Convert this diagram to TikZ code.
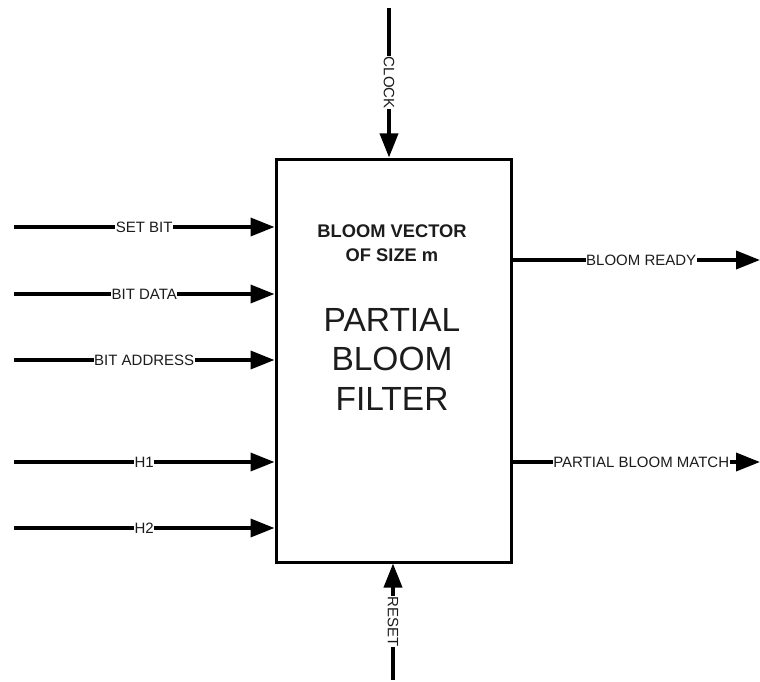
\documentclass[tikz,border=0pt]{standalone}
\usepackage{fontspec}
\setmainfont{Liberation Sans}
\usetikzlibrary{arrows.meta,positioning}
\definecolor{Ink}{HTML}{1C1C1C}
\tikzset{
  block/.style={
    draw=black,line width=3pt,fill=white,
    minimum width=235pt,minimum height=403pt,inner sep=0pt
  },
  signal/.style={-{Triangle[length=24pt,width=18pt]},line width=3.5pt,draw=black},
  tag/.style={fill=white,inner sep=0.6pt,text=Ink,font=\fontsize{15}{17}\selectfont},
  vtag/.style={tag,rotate=-90},
  caption/.style={align=center,text=Ink,font=\fontsize{18.3}{24}\selectfont\bfseries},
  title/.style={align=center,text=Ink,font=\fontsize{33.5}{39.5}\selectfont}
}

\begin{document}
\begin{tikzpicture}[x=1pt,y=-1pt]
  \useasboundingbox (0,0) rectangle (760,682);
  \node[block] (pbf) at (393.5,360.5) {};
  \node[caption] (vec) at (392,243) {BLOOM VECTOR\\OF SIZE m};
  \node[title] (name) at (392,359) {PARTIAL\\BLOOM\\FILTER};

  \coordinate (setbit) at (14,227);
  \coordinate (bitdata) at (14,294);
  \coordinate (bitaddr) at (14,360);
  \coordinate (hone) at (14,462);
  \coordinate (htwo) at (14,528);
  \coordinate (ready) at (760,260);
  \coordinate (match) at (760,462);
  \coordinate (clk) at (389,8);
  \coordinate (rst) at (393,680);

  \draw[signal] (setbit) -- (setbit -| pbf.west) node[tag,midway] {SET BIT};
  \draw[signal] (bitdata) -- (bitdata -| pbf.west) node[tag,midway] {BIT DATA};
  \draw[signal] (bitaddr) -- (bitaddr -| pbf.west) node[tag,midway] {BIT ADDRESS};
  \draw[signal] (hone) -- (hone -| pbf.west) node[tag,midway] {H1};
  \draw[signal] (htwo) -- (htwo -| pbf.west) node[tag,midway] {H2};

  \draw[signal] (ready -| pbf.east) -- (ready) node[tag,pos=0.52] {BLOOM READY};
  \draw[signal] (match -| pbf.east) -- (match) node[tag,pos=0.52] {PARTIAL BLOOM MATCH};

  \draw[signal] (clk) -- (clk |- pbf.north) node[vtag,midway] {CLOCK};
  \draw[signal] (rst) -- (rst |- pbf.south) node[vtag,midway] {RESET};
\end{tikzpicture}
\end{document}
